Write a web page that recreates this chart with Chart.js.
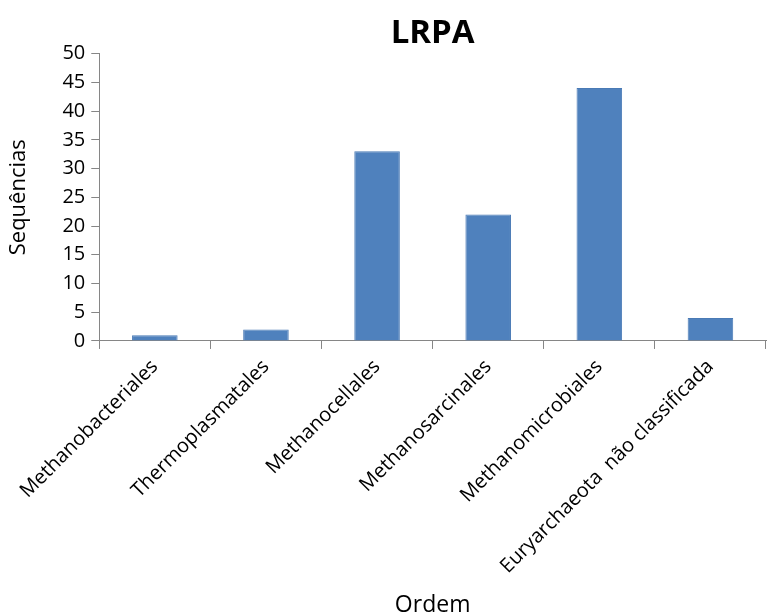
<!DOCTYPE html>
<html>
<head>
<meta charset="utf-8">
<script src="https://cdn.jsdelivr.net/npm/chart.js@4"></script>
<style>
  body { margin: 0; background: #fff; }
  #wrap { width: 771px; height: 616px; }
</style>
</head>
<body>
<div id="wrap"><canvas id="chart"></canvas></div>
<script>
const ordens = [
  "Methanobacteriales",
  "Thermoplasmatales",
  "Methanocellales",
  "Methanosarcinales",
  "Methanomicrobiales",
  "Euryarchaeota  não classificada"
];
const sequencias = [1, 2, 33, 22, 44, 4];

const axisColor = '#868686';
const fontFamily = '"Open Sans", "DejaVu Sans", sans-serif';

new Chart(document.getElementById('chart'), {
  type: 'bar',
  data: {
    labels: ordens,
    datasets: [{
      label: 'LRPA',
      data: sequencias,
      backgroundColor: '#4F81BD',
      borderColor: '#4A7AB5',
      borderWidth: 1,
      barPercentage: 0.41,
      categoryPercentage: 1
    }]
  },
  options: {
    responsive: true,
    maintainAspectRatio: false,
    animation: false,
    layout: { padding: { top: 0, right: 5, left: 6, bottom: -3 } },
    plugins: {
      legend: { display: false },
      tooltip: { enabled: false },
      title: {
        display: true,
        text: 'LRPA',
        fullSize: false,
        color: '#000',
        font: { family: fontFamily, size: 33, weight: 'bold' },
        padding: { top: 14, bottom: 0 }
      }
    },
    scales: {
      x: {
        border: { color: axisColor, width: 1 },
        grid: {
          offset: true,
          drawOnChartArea: false,
          drawTicks: true,
          tickLength: 8,
          color: axisColor
        },
        ticks: {
          color: '#000',
          minRotation: 45,
          maxRotation: 45,
          padding: 6,
          font: { family: fontFamily, size: 20 }
        },
        title: {
          display: true,
          text: 'Ordem',
          color: '#000',
          font: { family: fontFamily, size: 23 },
          padding: { top: 7, bottom: 0 }
        }
      },
      y: {
        min: 0,
        max: 50,
        border: { color: axisColor, width: 1 },
        grid: {
          drawOnChartArea: false,
          drawTicks: true,
          tickLength: 8,
          color: axisColor
        },
        ticks: {
          stepSize: 5,
          color: '#000',
          padding: 6,
          font: { family: fontFamily, size: 20 }
        },
        title: {
          display: true,
          text: 'Sequências',
          color: '#000',
          font: { family: fontFamily, size: 22 },
          padding: { top: 0, bottom: 24 }
        }
      }
    }
  }
});
</script>
</body>
</html>
